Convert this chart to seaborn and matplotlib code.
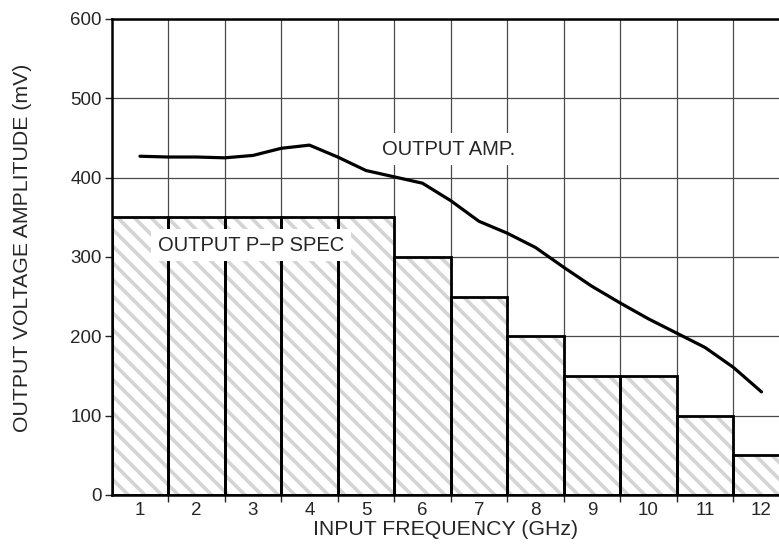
import matplotlib
matplotlib.use("Agg")
import matplotlib.pyplot as plt
import seaborn as sns

# spec bars (mV) per input frequency (GHz)
freq = [1, 2, 3, 4, 5, 6, 7, 8, 9, 10, 11, 12]
spec_pp = [350, 350, 350, 350, 350, 300, 250, 200, 150, 150, 100, 50]

# measured output amplitude curve
amp_freq = [1, 1.5, 2, 2.5, 3, 3.5, 4, 4.5, 5, 5.5, 6, 6.5, 7, 7.5, 8,
            8.5, 9, 9.5, 10, 10.5, 11, 11.5, 12]
amp_mv = [427, 426, 426, 425, 428, 437, 441, 426, 409, 401, 393, 371, 345,
          330, 312, 287, 263, 242, 222, 204, 186, 161, 130]

y_ticks = [0, 100, 200, 300, 400, 500, 600]

sns.set_style("white")
plt.rcParams["font.family"] = ["Liberation Sans", "DejaVu Sans"]
plt.rcParams["hatch.linewidth"] = 2.6

fig = plt.figure(figsize=(7.79, 5.44), dpi=100)
ax = fig.add_axes([0.1434, 0.0901, 0.8566, 0.875])

# hatched fill first, then black outlines on top
sns.barplot(x=freq, y=spec_pp, native_scale=True, width=1, color="white",
            edgecolor="#d4d4d4", linewidth=0, hatch="\\\\", ax=ax, zorder=2)
sns.barplot(x=freq, y=spec_pp, native_scale=True, width=1, fill=False,
            edgecolor="black", linewidth=2, ax=ax, zorder=3)

sns.lineplot(x=amp_freq, y=amp_mv, color="black", linewidth=2.3, ax=ax,
             zorder=4)

ax.set_xlim(0.5, 12.31)
ax.set_ylim(0, 600)
ax.set_yticks(y_ticks)
ax.set_xticks(freq)
ax.set_xticks([f + 0.5 for f in freq[:-1]], minor=True)
ax.tick_params(axis="x", which="major", length=0, labelsize=13.5, pad=5)
ax.tick_params(axis="x", which="minor", length=5, width=1, direction="out",
               bottom=True)
ax.tick_params(axis="y", length=5, width=1, direction="out", left=True,
               labelsize=13.5, pad=2)

ax.set_axisbelow(True)
ax.grid(True, axis="y", which="major", color="#4a4a4a", linewidth=0.9)
ax.grid(True, axis="x", which="minor", color="#4a4a4a", linewidth=0.9)
ax.grid(False, axis="x", which="major")

for side in ["left", "top", "bottom"]:
    ax.spines[side].set_visible(True)
    ax.spines[side].set_color("black")
    ax.spines[side].set_linewidth(1.8)
ax.spines["right"].set_visible(False)

ax.set_xlabel("INPUT FREQUENCY (GHz)", fontsize=15.3, labelpad=1)
ax.set_ylabel("OUTPUT VOLTAGE AMPLITUDE (mV)", fontsize=15.3)
ax.yaxis.set_label_coords(-0.12, 0.519)

box = dict(facecolor="white", edgecolor="none", pad=5)
ax.text(1.32, 315, "OUTPUT P\u2212P SPEC", fontsize=14.5, va="center",
        ha="left", bbox=box, zorder=5)
ax.text(5.28, 436, "OUTPUT AMP.", fontsize=14.5, va="center", ha="left",
        bbox=box, zorder=5)

fig.savefig("out.png", dpi=100)
